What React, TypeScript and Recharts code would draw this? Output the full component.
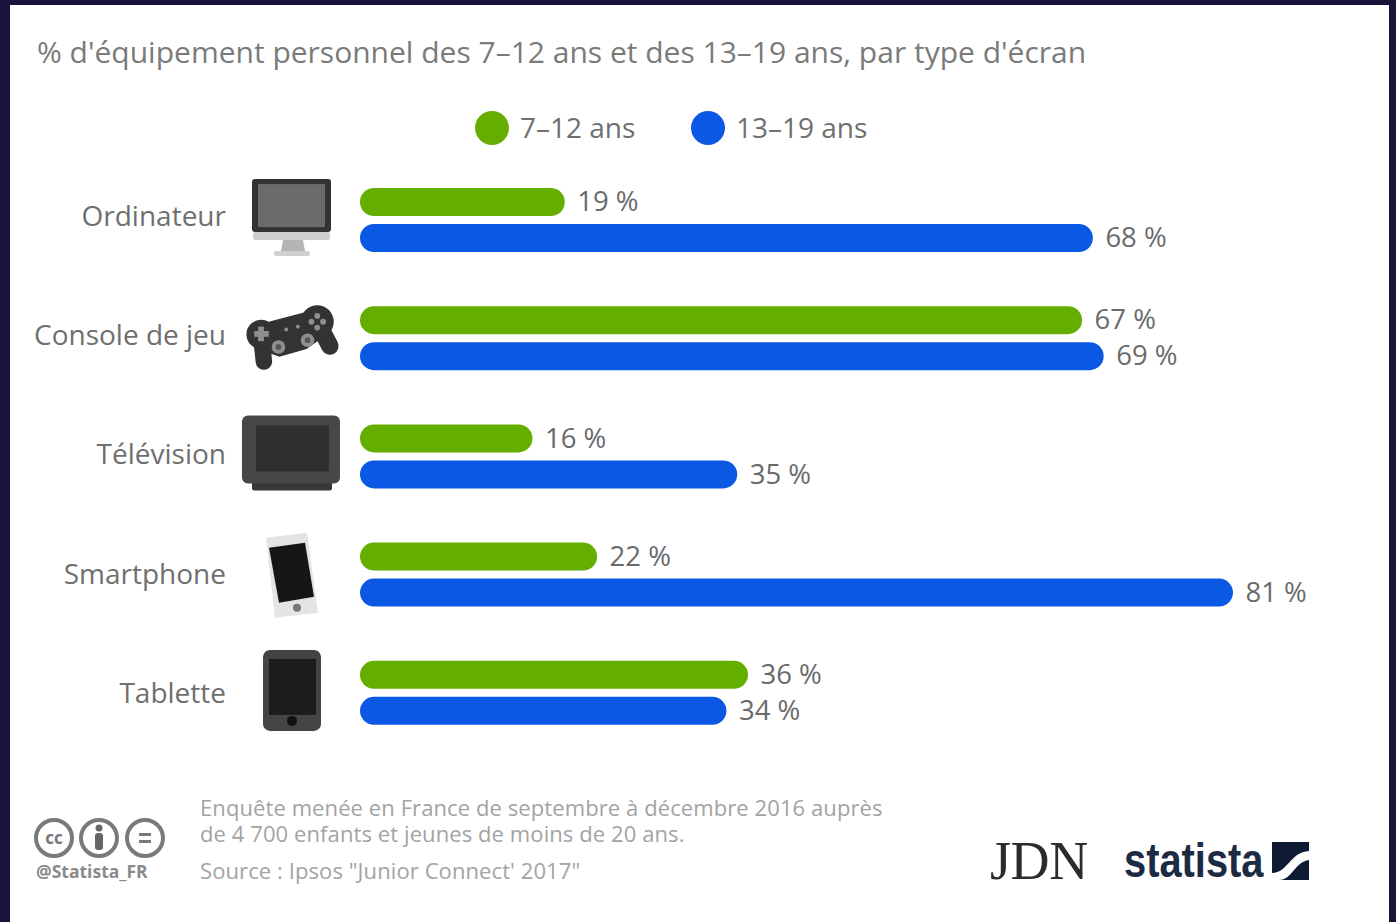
import React from "react";
import { BarChart, Bar, XAxis, YAxis, LabelList } from "recharts";

const categories = ["Ordinateur", "Console de jeu", "Télévision", "Smartphone", "Tablette"];
const children712 = [19, 67, 16, 22, 36];
const teens1319 = [68, 69, 35, 81, 34];
const seriesNames = ["7–12 ans", "13–19 ans"];
const seriesColors = ["#64ae00", "#0a58e4"];

const rows = categories.map((name, i) => ({
  name,
  younger: children712[i],
  older: teens1319[i],
}));

const FONT = "'Open Sans', sans-serif";

// Device pictograms, drawn around the centre of each category row.
function DeviceIcon({ name }: { name: string }) {
  switch (name) {
    case "Ordinateur":
      return (
        <g>
          <rect x={-40} y={-41} width={79} height={53} rx={3} fill="#333" />
          <rect x={-34} y={-36} width={67} height={43} fill="#6b6b6b" />
          <rect x={-39} y={12} width={77} height={8} rx={2} fill="#cfcfcf" />
          <path d="M-9 20 H11 L13 31 H-11 Z" fill="#b5b5b5" />
          <rect x={-18} y={31} width={36} height={5} rx={2} fill="#d0d0d0" />
        </g>
      );
    case "Console de jeu":
      return (
        <g transform="translate(1 -1) scale(0.97)">
          <g stroke="#333" strokeLinecap="round" fill="none">
            <line x1={-33} y1={-3} x2={-30} y2={25} strokeWidth={17} />
            <line x1={26} y1={-14} x2={38} y2={9} strokeWidth={18} />
          </g>
          <polygon points="-33,-14 24,-29 34,-2 14,12 -14,20 -36,12" fill="#333" />
          <circle cx={-33} cy={-3} r={15} fill="#333" />
          <circle cx={25} cy={-16} r={17} fill="#333" />
          <g fill="#8f8f8f">
            <rect x={-36} y={-11} width={6} height={15} />
            <rect x={-40} y={-6.5} width={15} height={6} />
            <circle cx={25} cy={-22} r={3} />
            <circle cx={25} cy={-10} r={3} />
            <circle cx={19} cy={-16} r={3} />
            <circle cx={31} cy={-16} r={3} />
            <circle cx={-15} cy={10} r={7} />
            <circle cx={15} cy={3} r={7} />
            <circle cx={-7} cy={-8} r={2} />
            <circle cx={5} cy={-11} r={2} />
          </g>
          <circle cx={-15} cy={10} r={3} fill="#555" />
          <circle cx={15} cy={3} r={3} fill="#555" />
        </g>
      );
    case "Télévision":
      return (
        <g>
          <rect x={-40} y={20} width={80} height={14} rx={2} fill="#383838" />
          <rect x={-50} y={-41} width={98} height={68} rx={6} fill="#474747" />
          <rect x={-36} y={-31} width={73} height={46} fill="#2f2f2f" />
        </g>
      );
    case "Smartphone":
      return (
        <g>
          <polygon points="-26,-37 15,-42 26,38 -17,43" fill="#e4e4e4" />
          <polygon points="-23,-27 13,-32 22,22 -13,28" fill="#161616" />
          <circle cx={5} cy={33} r={4} fill="#777" />
        </g>
      );
    default:
      return (
        <g>
          <rect x={-29} y={-43} width={58} height={81} rx={7} fill="#444" />
          <rect x={-23} y={-34} width={47} height={56} fill="#1c1c1c" />
          <circle cx={0} cy={28} r={5} fill="#111" />
        </g>
      );
  }
}

// Category tick: right-aligned label followed by its device icon.
function CategoryTick({ x, y, payload, index }: any) {
  return (
    <g>
      <text
        x={x - 134}
        y={y - 4 + index}
        dy="0.35em"
        textAnchor="end"
        fontFamily={FONT}
        fontSize={28}
        fill="#6f6f6f"
      >
        {payload.value}
      </text>
      <g transform={`translate(${x - 68} ${y})`}>
        <DeviceIcon name={payload.value} />
      </g>
    </g>
  );
}

function ValueLabel({ x, y, width, height, value }: any) {
  return (
    <text
      x={x + width + 12.5}
      y={y + height / 2 - 0.5}
      dy="0.35em"
      fontFamily={FONT}
      fontSize={27.5}
      fill="#6a6a6a"
    >
      {value} %
    </text>
  );
}

const abs = (left: number, top: number, extra: React.CSSProperties = {}): React.CSSProperties => ({
  position: "absolute",
  left,
  top,
  whiteSpace: "nowrap",
  fontFamily: FONT,
  ...extra,
});

function LegendRow() {
  const xs = [492, 708];
  return (
    <>
      {seriesNames.map((label, i) => (
        <React.Fragment key={label}>
          <div
            style={abs(xs[i] - 17, 111, {
              width: 34,
              height: 34,
              borderRadius: "50%",
              background: seriesColors[i],
            })}
          />
          <div style={abs(xs[i] + 28, 109, { fontSize: 28, lineHeight: "36px", color: "#6f6f6f" })}>
            {label}
          </div>
        </React.Fragment>
      ))}
    </>
  );
}

function Footer() {
  const note = { fontSize: 22, lineHeight: "26px", color: "#a3a3a3", letterSpacing: "0.09px" };
  return (
    <>
      <svg
        width={1396}
        height={922}
        style={{ position: "absolute", left: 0, top: 0 }}
      >
        {[54, 99, 145].map((cx) => (
          <circle key={cx} cx={cx} cy={838} r={18} fill="none" stroke="#7a7a7a" strokeWidth={4} />
        ))}
        <text x={54} y={844} textAnchor="middle" fontFamily={FONT} fontWeight={700} fontSize={17} fill="#7a7a7a">
          cc
        </text>
        <circle cx={99} cy={828} r={3.5} fill="#666" />
        <rect x={95} y={833} width={8} height={17} rx={3} fill="#666" />
        <rect x={139} y={833} width={12} height={3} fill="#7a7a7a" />
        <rect x={139} y={840} width={12} height={3} fill="#7a7a7a" />
        <text x={36} y={878} fontFamily={FONT} fontWeight={700} fontSize={17.5} fill="#8a8a8a">
          @Statista_FR
        </text>
        {/* publisher mark: dark square crossed by a white wave */}
        <rect x={1272} y={842} width={37} height={38} fill="#0f1b33" />
        <path d="M1272 873 C1288 873 1290 852 1309 851 L1309 860 C1294 862 1292 881 1278 880 L1272 880 Z" fill="#fff" />
      </svg>
      <div style={abs(37, 32, { fontSize: 30, lineHeight: "40px", color: "#7a7a7a" })}>
        % d'équipement personnel des 7–12 ans et des 13–19 ans, par type d'écran
      </div>
      <div style={abs(200, 794, note)}>
        Enquête menée en France de septembre à décembre 2016 auprès
        <br />
        de 4 700 enfants et jeunes de moins de 20 ans.
      </div>
      <div style={abs(200, 857, note)}>Source : Ipsos "Junior Connect' 2017"</div>
      <div
        style={abs(990, 828, {
          fontFamily: "'Liberation Serif', serif",
          fontSize: 54,
          lineHeight: "66px",
          color: "#2b2b2b",
          letterSpacing: "-0.4px",
        })}
      >
        JDN
      </div>
      <div
        style={abs(1124, 828, {
          fontFamily: "'Liberation Sans', sans-serif",
          fontWeight: 700,
          fontSize: 48,
          lineHeight: "66px",
          color: "#1c2b44",
          transform: "scaleX(0.83)",
          transformOrigin: "left center",
        })}
      >
        statista
      </div>
    </>
  );
}

export default function App() {
  return (
    <div style={{ position: "absolute", left: 0, top: 0, width: 1396, height: 922, background: "#17133a", overflow: "hidden" }}>
      <div style={{ position: "absolute", left: 10, top: 5, width: 1379, height: 917, background: "#ffffff" }} />
      <div style={{ position: "absolute", left: 0, top: 0 }}>
        <BarChart
          width={1396}
          height={922}
          data={rows}
          layout="vertical"
          barSize={28}
          barGap={8}
          margin={{ top: 161, right: 66, bottom: 170, left: 0 }}
        >
          <XAxis type="number" domain={[0, 90]} hide />
          <YAxis
            type="category"
            dataKey="name"
            width={360}
            axisLine={false}
            tickLine={false}
            tickSize={0}
            tickMargin={0}
            interval={0}
            tick={<CategoryTick />}
          />
          <Bar dataKey="younger" fill={seriesColors[0]} radius={14} isAnimationActive={false}>
            <LabelList dataKey="younger" content={<ValueLabel />} />
          </Bar>
          <Bar dataKey="older" fill={seriesColors[1]} radius={14} isAnimationActive={false}>
            <LabelList dataKey="older" content={<ValueLabel />} />
          </Bar>
        </BarChart>
      </div>
      <LegendRow />
      <Footer />
    </div>
  );
}
